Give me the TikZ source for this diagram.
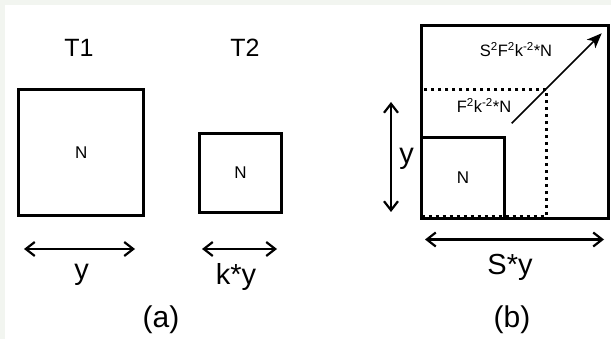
\documentclass[tikz,border=0pt]{standalone}
\usepackage{fontspec}
\setmainfont{Liberation Sans}
\usetikzlibrary{arrows.meta}
\definecolor{pageRim}{HTML}{F2F5F0}

\begin{document}
\begin{tikzpicture}[
  x=1pt, y=-1pt,
  every node/.style={inner sep=0pt, outer sep=0pt},
  frame/.style={
    draw,
    line width=3pt,
    font=\fontsize{17}{20}\selectfont
  },
  dotframe/.style={
    draw,
    line width=3pt,
    dash pattern=on 3pt off 4pt
  },
  title/.style={font=\fontsize{25}{29}\selectfont, anchor=base},
  dimlabel/.style={font=\fontsize{29}{33}\selectfont, anchor=base},
  sublabel/.style={font=\fontsize{16.5}{19}\selectfont, anchor=base},
  caption/.style={font=\fontsize{30}{34}\selectfont, anchor=base},
  dimarrow/.style={draw, line width=2.2pt,
    {Straight Barb[length=9pt,width=14pt]}-{Straight Barb[length=9pt,width=14pt]}},
  growarrow/.style={draw, line width=1.6pt, -{Stealth[length=15pt,width=12pt,inset=4pt]}}
]
\useasboundingbox (0,0) rectangle (611,339);
\fill[pageRim] (0,0) rectangle (611,339);
\fill[white] (5,5) rectangle (611,339);

% (a) two tiles
\node[title] (tone) at (79,57) {T1};
\node[title] (ttwo) at (245,57) {T2};

\node[frame, minimum width=125pt, minimum height=125.6pt] (tilea) at (81.2,152.5) {N};
\node[frame, minimum width=81.6pt, minimum height=79.7pt] (tileb) at (240.5,172.9) {N};

\coordinate (ya1) at (24,249);
\coordinate (ya2) at (135,249);
\coordinate (yb1) at (202,249);
\coordinate (yb2) at (277,249);
\draw[dimarrow] (ya1) -- (ya2);
\draw[dimarrow] (yb1) -- (yb2);
\node[dimlabel] (ylab) at (81.5,280) {y};
\node[dimlabel] (kylab) at (236,285) {k*y};
\node[caption] (capa) at (161,327) {(a)};

% (b) growing tile
\node[dotframe, minimum width=125pt, minimum height=126.7pt] (grow) at (484.2,152.7) {};
\node[frame, minimum width=186.6pt, minimum height=193.3pt] (outer) at (515,121.7) {};
\node[frame, minimum width=82.3pt, minimum height=81.3pt] (inner) at (462.9,178) {N};

\node[sublabel] (flab) at (484,113) {F\textsuperscript{2}k\textsuperscript{-2}*N};
\node[sublabel] (sflab) at (516,56.5) {S\textsuperscript{2}F\textsuperscript{2}k\textsuperscript{-2}*N};

\coordinate (gfrom) at (511.7,123.3);
\coordinate (gto) at (601.7,33.3);
\draw[growarrow] (gfrom) -- (gto);

\coordinate (yv1) at (391,102);
\coordinate (yv2) at (391,212);
\draw[dimarrow] (yv1) -- (yv2);
\node[dimlabel] (yvlab) at (406.5,164) {y};

\coordinate (sy1) at (425,239.5);
\coordinate (sy2) at (604,239.5);
\draw[dimarrow] (sy1) -- (sy2);
\node[dimlabel] (sylab) at (510,275) {S*y};
\node[caption] (capb) at (512,327) {(b)};

\end{tikzpicture}
\end{document}
